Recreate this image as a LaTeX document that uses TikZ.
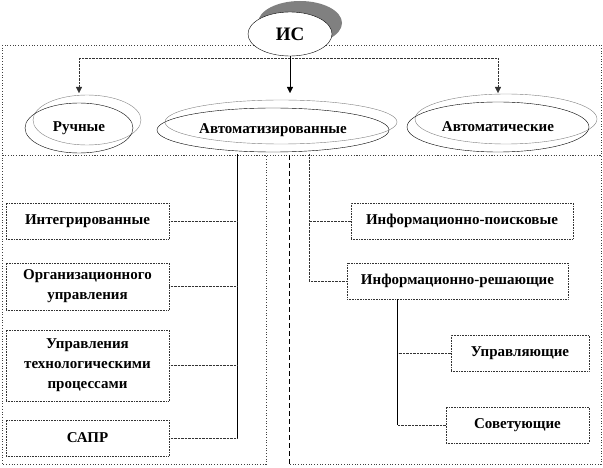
\documentclass[tikz,border=0pt]{standalone}
\usepackage{fontspec}
\setmainfont{Liberation Serif}
\usepackage{tikz}
\usetikzlibrary{shapes.geometric, arrows.meta, shadows}
\definecolor{ShGray}{RGB}{128,128,128}

\begin{document}
\begin{tikzpicture}[x=1pt, y=-1pt,
          zone/.style={draw=black!75, line width=0.7pt, dotted},
          oval/.style={ellipse, draw, thin, inner sep=0pt,
                       font=\fontsize{15}{18}\selectfont\bfseries,
                       general shadow={draw=ShGray, fill=none,
                                       shadow xshift=8pt, shadow yshift=8pt}},
          box/.style={rectangle, draw=black!80, densely dotted,
                      line width=0.6pt, fill=white, minimum height=36pt,
                      inner sep=0pt, align=center,
                      font=\fontsize{15}{20}\selectfont\bfseries},
          trunk/.style={thin, black},
          branch/.style={thin, densely dotted, black!80},
          arr/.style={-{Triangle[length=6pt, width=6pt]}}
        ]
        \useasboundingbox (0,0) rectangle (603,468);

        % Zones
        \draw[zone] (2,45) rectangle (601,155);
        \draw[zone] (2,155) rectangle (266,464);
        \draw[zone] (289,155) -- (601,155) -- (601,464) -- (289,464);
        \draw[draw=black, thin, dash pattern=on 5pt off 3pt] (289,155) -- (289,464);

        % Root
        \node[ellipse, draw, thin, fill=white, inner sep=0pt,
              minimum width=84pt, minimum height=44pt,
              general shadow={fill=ShGray, shadow xshift=10pt, shadow yshift=11pt},
              font=\fontsize{19}{22}\selectfont\bfseries] (IS) at (290,34) {ИС};

        % Kinds
        \node[oval, minimum width=108pt, minimum height=50pt] (man)  at (79,128)  {Ручные};
        \node[oval, minimum width=232pt, minimum height=44pt] (avt)  at (273,130) {Автоматизированные};
        \node[oval, minimum width=182pt, minimum height=50pt] (auto) at (498,127) {Автоматические};

        % Left column
        \node[box, minimum width=163pt] (integ) at (87.5,221) {Интегрированные};
        \node[box, minimum width=163pt, minimum height=47pt] (org) at (87.5,286.5)
              {Организационного\\управления};
        \node[box, minimum width=163pt, minimum height=71pt] (tech) at (87.5,365.5)
              {Управления\\технологическими\\процессами};
        \node[box, minimum width=163pt] (sapr) at (87.5,438) {САПР};

        % Right column
        \node[box, minimum width=222pt] (poisk) at (462,221)   {Информационно-поисковые};
        \node[box, minimum width=221pt] (resh)  at (457.5,281) {Информационно-решающие};
        \node[box, minimum width=138pt] (upr)   at (520,353)   {Управляющие};
        \node[box, minimum width=143pt] (sov)   at (517.5,425) {Советующие};

        % Arrows from root
        \coordinate (bus) at (0,58);
        \coordinate (tip) at (0,93);
        \draw[branch] (man.north |- bus) -- (auto.north |- bus);
        \draw[arr, branch] (man.north |- bus) -- (man.north |- tip);
        \draw[arr, branch] (auto.north |- bus) -- (auto.north |- tip);
        \draw[arr, trunk] (IS.south) -- (IS.south |- tip);

        % Links, left
        \coordinate (lt) at (237,154);
        \draw[trunk] (lt) -- (lt |- sapr.east);
        \foreach \b in {integ, org, tech, sapr}
          \draw[branch] (\b.east) -- (\b.east -| lt);

        % Links, right
        \coordinate (rt) at (309,154);
        \draw[branch] (rt) -- (rt |- resh.west) -- (resh.west);
        \draw[branch] (poisk.west) -- (poisk.west -| rt);
        \coordinate (rt2) at ([xshift=-60pt]resh.south);
        \draw[trunk] (rt2) -- (rt2 |- sov.west);
        \foreach \b in {upr, sov}
          \draw[branch] (\b.west) -- (\b.west -| rt2);
      \end{tikzpicture}
\end{document}
